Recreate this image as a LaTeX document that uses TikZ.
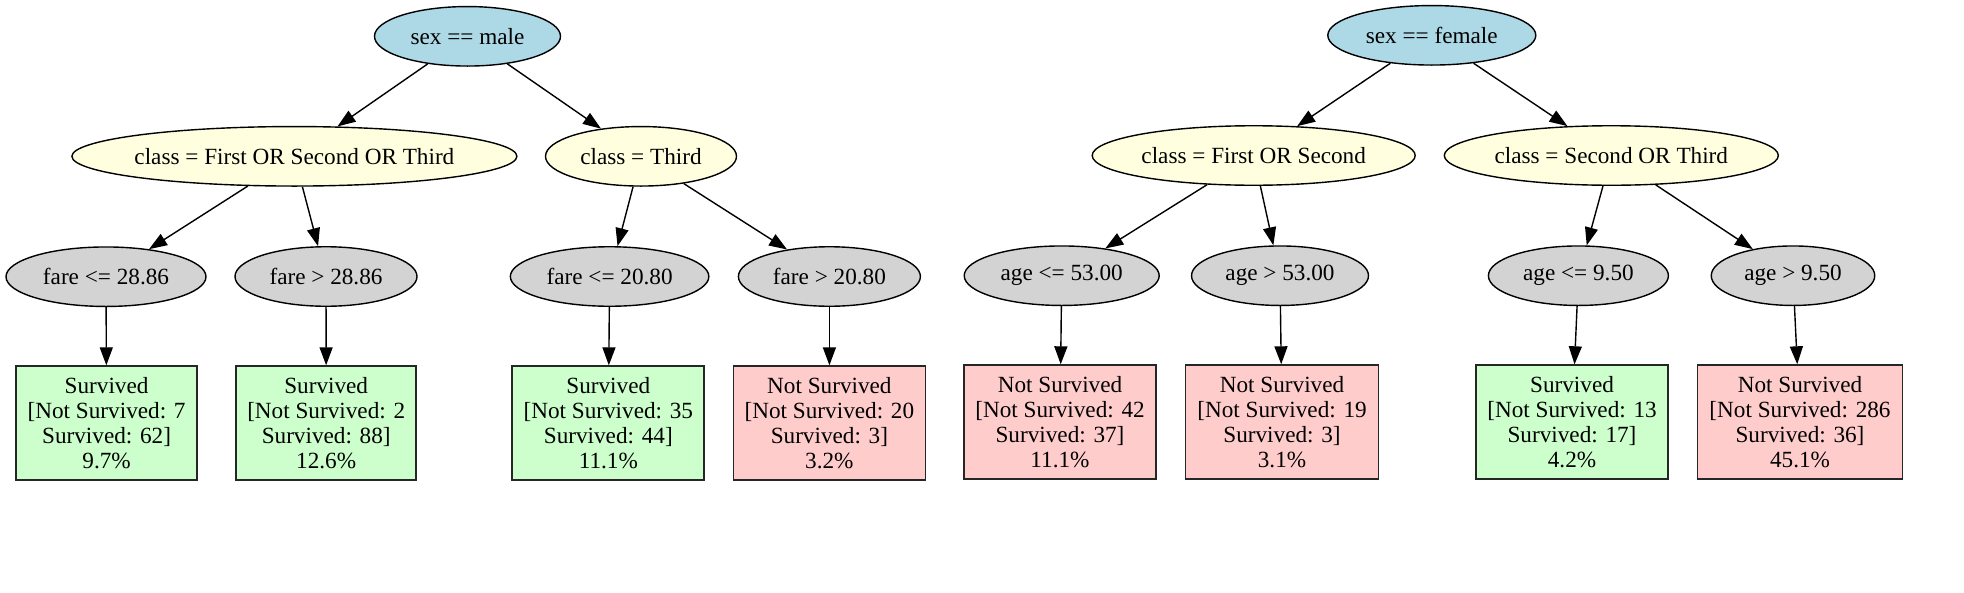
\documentclass[tikz,border=0pt]{standalone}
\usepackage{fontspec}
\setmainfont{Liberation Serif}
\usetikzlibrary{arrows.meta,shapes.geometric}
\definecolor{nodeblue}{HTML}{ADD8E6}
\definecolor{nodeyellow}{HTML}{FFFFE0}
\definecolor{nodegray}{HTML}{D3D3D3}
\definecolor{survgreen}{HTML}{CCFFCC}
\definecolor{deadred}{HTML}{FFCCCC}
\newcommand\zt[1]{\makebox[0pt]{#1}}
\begin{document}
\begin{tikzpicture}[x=1pt,y=-1pt,
  every node/.style={font=\fontsize{23.2}{24.9}\selectfont},
  ell/.style={draw=black, line width=1.4pt, ellipse, inner sep=0pt, minimum height=59.5pt},
  rootnode/.style={ell, fill=nodeblue},
  splitnode/.style={ell, fill=nodeyellow},
  condnode/.style={ell, fill=nodegray},
  leaf/.style={draw=black!85, line width=1.8pt, rectangle, inner sep=0pt, minimum height=114pt, align=center},
  surv/.style={leaf, fill=survgreen},
  dead/.style={leaf, fill=deadred},
  arr/.style={-{Triangle[length=18pt,width=13pt]}, line width=1.4pt}
]
\useasboundingbox (0,0) rectangle (1964,592);
% left tree
\node[rootnode, minimum width=186pt] (m0) at (467.5,36.3) {\zt{sex == male}};
\node[splitnode, minimum width=445pt] (m1) at (294.4,156.3) {\zt{class = First OR Second OR Third}};
\node[splitnode, minimum width=191pt] (m2) at (641,156.3) {\zt{class = Third}};
\node[condnode, minimum width=200pt] (m3) at (106,276.7) {\zt{fare <= 28.86}};
\node[condnode, minimum width=182pt] (m4) at (326,276.5) {\zt{fare > 28.86}};
\node[condnode, minimum width=198.5pt] (m5) at (609.6,276.5) {\zt{fare <= 20.80}};
\node[condnode, minimum width=182pt] (m6) at (829.4,276.5) {\zt{fare > 20.80}};
\node[surv, minimum width=181pt] (b1) at (106.6,423.2) {Survived\\{[}Not Survived: 7\\Survived: 62{]}\\9.7\%};
\node[surv, minimum width=180pt] (b2) at (326.2,423.2) {Survived\\{[}Not Survived: 2\\Survived: 88{]}\\12.6\%};
\node[surv, minimum width=192pt] (b3) at (608.3,423.2) {Survived\\{[}Not Survived: 35\\Survived: 44{]}\\11.1\%};
\node[dead, minimum width=192pt] (b4) at (829.4,423.2) {Not Survived\\{[}Not Survived: 20\\Survived: 3{]}\\3.2\%};
% right tree
\node[rootnode, minimum width=208pt] (f0) at (1431.8,35.3) {\zt{sex == female}};
\node[splitnode, minimum width=323pt] (f1) at (1253.7,155.5) {\zt{class = First OR Second}};
\node[splitnode, minimum width=334pt] (f2) at (1611.3,155.5) {\zt{class = Second OR Third}};
\node[condnode, minimum width=195pt] (f3) at (1061.7,275.7) {\zt{age <= 53.00}};
\node[condnode, minimum width=177pt] (f4) at (1280,275.7) {\zt{age > 53.00}};
\node[condnode, minimum width=180pt] (f5) at (1578.4,275.7) {\zt{age <= 9.50}};
\node[condnode, minimum width=163.5pt] (f6) at (1793,275.7) {\zt{age > 9.50}};
\node[dead, minimum width=192pt] (g1) at (1060,422.2) {Not Survived\\{[}Not Survived: 42\\Survived: 37{]}\\11.1\%};
\node[dead, minimum width=193pt] (g2) at (1282,422.2) {Not Survived\\{[}Not Survived: 19\\Survived: 3{]}\\3.1\%};
\node[surv, minimum width=192pt] (g3) at (1572,422.2) {Survived\\{[}Not Survived: 13\\Survived: 17{]}\\4.2\%};
\node[dead, minimum width=205pt] (g4) at (1800,422.2) {Not Survived\\{[}Not Survived: 286\\Survived: 36{]}\\45.1\%};
% edges
\foreach \a/\b in {m0/m1,m0/m2,m1/m3,m1/m4,m2/m5,m2/m6,m3/b1,m4/b2,m5/b3,m6/b4,
                   f0/f1,f0/f2,f1/f3,f1/f4,f2/f5,f2/f6,f3/g1,f4/g2,f5/g3,f6/g4}
  \draw[arr] (\a) -- (\b);
\end{tikzpicture}
\end{document}
